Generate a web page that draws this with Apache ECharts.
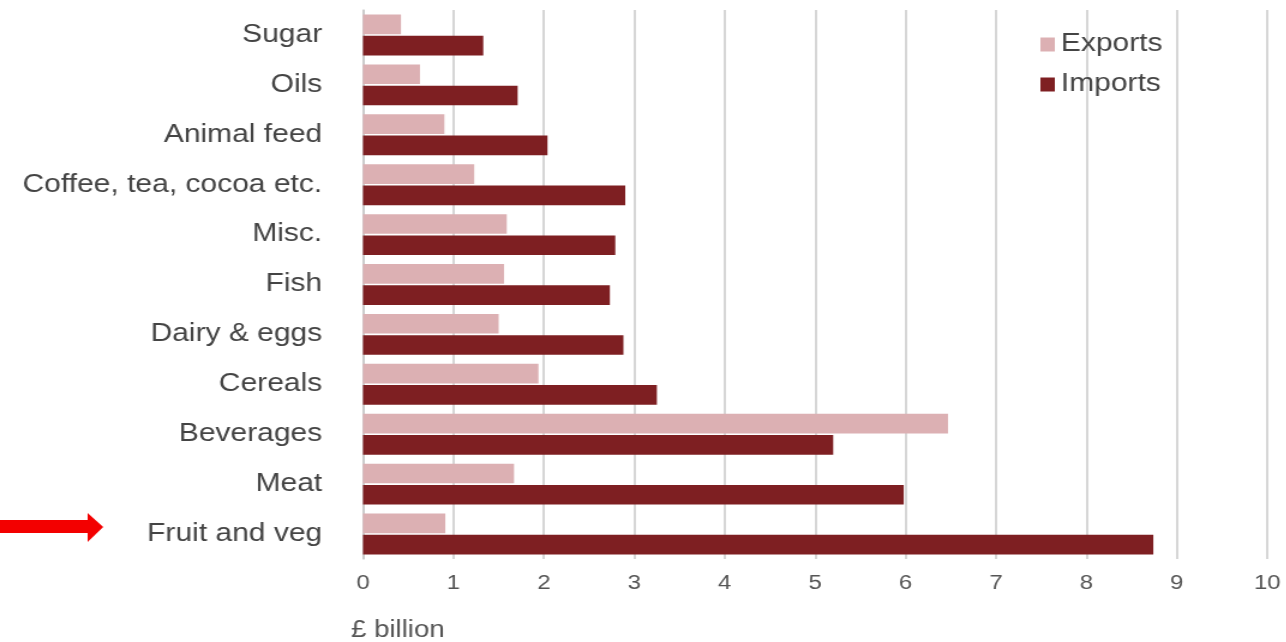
<!DOCTYPE html>
<html>
<head>
<meta charset="utf-8">
<script src="https://cdn.jsdelivr.net/npm/echarts@6/dist/echarts.min.js"></script>
<style>
  html, body { margin: 0; padding: 0; background: #fff; overflow: hidden; }
  /* the source picture is stretched sideways, so the chart is drawn narrower and widened */
  #chart { width: 1072px; height: 642px; transform: scaleX(1.2); transform-origin: 0 0; }
</style>
</head>
<body>
<div id="chart"></div>
<script>
const categories = ['Sugar', 'Oils', 'Animal feed', 'Coffee, tea, cocoa etc.', 'Misc.', 'Fish',
  'Dairy & eggs', 'Cereals', 'Beverages', 'Meat', 'Fruit and veg'];
const exportsData = [0.42, 0.63, 0.9, 1.23, 1.59, 1.56, 1.5, 1.94, 6.47, 1.67, 0.91];
const importsData = [1.33, 1.71, 2.04, 2.9, 2.79, 2.73, 2.88, 3.25, 5.2, 5.98, 8.74];

const chart = echarts.init(document.getElementById('chart'));
chart.setOption({
  animation: false,
  textStyle: { fontFamily: 'Liberation Sans, Arial, sans-serif' },
  grid: { left: 302.5, right: 16, top: 10, bottom: 81 },
  legend: {
    orient: 'vertical',
    left: 862,
    top: 27,
    itemWidth: 12,
    itemHeight: 14,
    itemGap: 15,
    icon: 'rect',
    textStyle: { fontSize: 25, color: '#444' },
    data: ['Exports', 'Imports']
  },
  xAxis: {
    type: 'value',
    min: 0,
    max: 10,
    interval: 1,
    name: '£ billion',
    nameLocation: 'start',
    nameGap: 0,
    nameTextStyle: { fontSize: 23, color: '#555', align: 'left', verticalAlign: 'top', padding: [60, 0, 0, -10] },
    axisLine: { show: false },
    axisTick: { show: false },
    axisLabel: { fontSize: 20, color: '#555', margin: 14 },
    splitLine: { lineStyle: { color: '#c8c8c8', width: 1.5 } }
  },
  yAxis: {
    type: 'category',
    inverse: true,
    data: categories,
    axisLine: { show: true, lineStyle: { color: '#c8c8c8', width: 1.5 } },
    axisTick: { show: false },
    axisLabel: { fontSize: 25, color: '#444', margin: 34 }
  },
  series: [
    {
      name: 'Exports',
      type: 'bar',
      data: exportsData,
      barGap: '8%',
      barCategoryGap: '18%',
      itemStyle: { color: '#dcb0b3' }
    },
    {
      name: 'Imports',
      type: 'bar',
      data: importsData,
      barGap: '8%',
      barCategoryGap: '18%',
      itemStyle: { color: '#7e1f22' }
    }
  ],
  graphic: [{
    type: 'polygon',
    shape: { points: [[0, 520], [73, 520], [73, 513], [86, 527], [73, 542], [73, 533], [0, 533]] },
    style: { fill: '#f30000' }
  }]
});
</script>
</body>
</html>
